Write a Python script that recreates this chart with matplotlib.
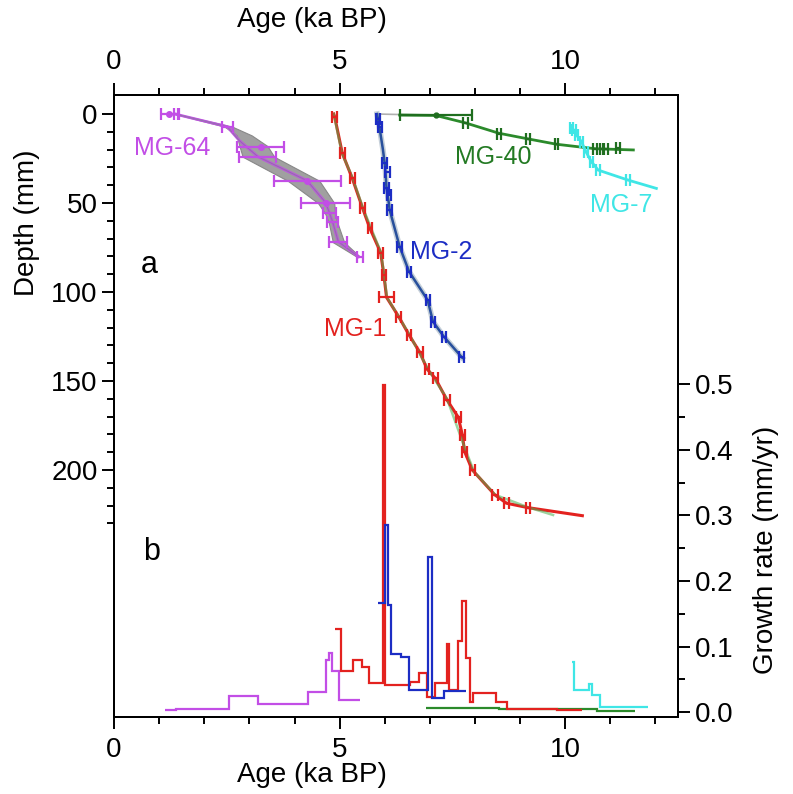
#!/usr/bin/env python3
"""Age-depth models (a) and growth rates (b) for the MG stalagmites."""

import matplotlib
matplotlib.use("Agg")
import matplotlib.pyplot as plt
import numpy as np

plt.rcParams["font.family"] = ["Liberation Sans", "DejaVu Sans"]

PURPLE = "#c24ee6"
RED = "#e3221f"
BLUE = "#1c2dc4"
BLUE_LINE = "#28509c"
GREEN = "#2b8a2b"
CYAN = "#3fe6e6"
ALT_GREEN = "#4caf50"

# ---- dated samples: age (ka BP), depth (mm), 2-sigma age error (ka) ----
mg64_age = [1.22, 1.39, 2.51, 3.25, 3.19, 4.28, 4.69, 4.78, 4.85, 4.96, 5.45]
mg64_depth = [0.0, 0.0, 7.1, 18.4, 24.0, 37.5, 49.8, 55.8, 60.5, 71.7, 80.2]
mg64_err = [0.19, 0.05, 0.12, 0.52, 0.41, 0.74, 0.54, 0.15, 0.12, 0.20, 0.07]
mg64_dots = [True, False, False, True, False, True, True, False, False, False, False]

mg1_age = [4.89, 5.06, 5.28, 5.51, 5.67, 5.91, 5.98, 6.04, 6.31, 6.54, 6.78,
           6.94, 7.12, 7.38, 7.63, 7.72, 7.77, 7.94, 8.44, 8.70, 9.18]
mg1_depth = [1.5, 22.1, 36.1, 53.0, 64.2, 77.9, 90.4, 103.0, 113.9, 124.2, 134.0,
             143.4, 148.5, 160.7, 170.4, 180.3, 189.7, 200.0, 214.0, 218.7, 221.2]
mg1_err = [0.05, 0.05, 0.06, 0.05, 0.05, 0.05, 0.05, 0.17, 0.05, 0.05, 0.06,
           0.05, 0.05, 0.06, 0.05, 0.05, 0.05, 0.06, 0.06, 0.05, 0.05]

mg2_age = [5.85, 5.89, 6.00, 6.06, 6.04, 6.09, 6.11, 6.33, 6.54, 6.96, 7.07, 7.31, 7.70]
mg2_depth = [3.0, 7.1, 27.7, 32.4, 41.7, 45.5, 53.9, 74.5, 88.6, 104.5, 116.7, 125.1, 136.3]
mg2_err = [0.04, 0.04, 0.05, 0.05, 0.05, 0.05, 0.05, 0.05, 0.05, 0.05, 0.05, 0.05, 0.05]

mg40_age = [7.13, 7.79, 8.53, 9.18, 9.81, 10.66, 10.80, 10.90, 11.17]
mg40_depth = [0.6, 5.2, 11.2, 14.2, 17.0, 19.7, 19.5, 19.5, 19.3]
mg40_err = [0.80, 0.06, 0.05, 0.04, 0.04, 0.04, 0.04, 0.04, 0.04]

mg7_age = [10.14, 10.19, 10.25, 10.36, 10.46, 10.58, 10.73, 11.39]
mg7_depth = [8.0, 9.0, 11.8, 15.6, 21.2, 26.8, 31.5, 37.1]
mg7_err = [0.04, 0.04, 0.04, 0.04, 0.04, 0.04, 0.04, 0.05]

# ---- age models ----
mg64_model_age = [1.35, 2.51, 2.78, 3.19, 4.28, 4.69, 4.78, 4.85, 4.97, 5.42]
mg64_model_depth = [0.0, 7.1, 15.0, 24.0, 37.5, 49.8, 56.0, 61.0, 71.7, 80.2]
mg64_band_depth = [0.0, 7.1, 12.0, 18.0, 24.0, 37.5, 50.0, 56.0, 61.0, 72.0, 80.2]
mg64_band_lo = [1.35, 2.45, 2.72, 2.78, 2.85, 3.85, 4.52, 4.68, 4.76, 4.85, 5.38]
mg64_band_hi = [1.40, 2.62, 3.05, 3.40, 3.55, 4.55, 4.88, 4.90, 4.95, 5.10, 5.45]

mg1_model_age = [4.87] + mg1_age + [10.38]
mg1_model_depth = [0.0] + mg1_depth + [225.7]
mg1_alt_age = [4.87, 5.05, 5.29, 5.52, 5.92, 6.05, 6.55, 6.95, 7.38, 7.75, 7.98, 8.45, 9.18, 9.73]
mg1_alt_depth = [0.0, 22.0, 36.0, 53.0, 78.0, 103.0, 124.0, 143.0, 160.0, 186.0, 201.0, 214.0, 221.0, 225.3]

mg2_model_age = [5.83, 5.88, 5.96, 6.01, 6.04, 6.09, 6.11, 6.33, 6.54, 6.95, 7.07, 7.31, 7.72]
mg2_model_depth = [0.0, 7.0, 20.0, 30.0, 42.0, 50.0, 54.0, 74.5, 88.6, 104.5, 116.7, 125.1, 137.0]

mg40_model_age = [6.33, 7.13, 7.79, 8.53, 9.18, 9.81, 10.66, 11.51]
mg40_model_depth = [0.6, 0.8, 5.0, 10.8, 14.0, 17.0, 19.5, 20.2]
mg40_alt_age = [5.83, 6.33, 7.13]
mg40_alt_depth = [0.0, 0.3, 0.6]

mg7_model_age = [10.14, 10.19, 10.25, 10.36, 10.46, 10.58, 10.73, 11.39, 12.02]
mg7_model_depth = [8.0, 9.0, 11.8, 15.6, 21.2, 26.8, 31.5, 37.1, 41.8]

# ---- growth rates (mm/yr), step edges in ka BP ----
mg64_gr_edges = [1.12, 1.38, 2.54, 3.19, 4.30, 4.69, 4.77, 4.82, 4.99, 5.45]
mg64_gr = [0.003, 0.005, 0.024, 0.012, 0.031, 0.079, 0.090, 0.063, 0.018]

mg1_gr_edges = [4.89, 5.02, 5.30, 5.50, 5.65, 5.965, 5.995, 6.55, 6.77, 6.94, 7.11,
                7.37, 7.42, 7.63, 7.72, 7.79, 7.90, 7.96, 8.46, 8.72, 9.81, 10.38]
mg1_gr = [0.126, 0.063, 0.080, 0.069, 0.044, 0.499, 0.041, 0.046, 0.059, 0.023,
          0.045, 0.104, 0.034, 0.109, 0.170, 0.082, 0.016, 0.029, 0.015, 0.004, 0.003]

mg2_gr_edges = [5.84, 6.00, 6.07, 6.13, 6.35, 6.54, 6.96, 7.05, 7.31, 7.79]
mg2_gr = [0.167, 0.285, 0.163, 0.089, 0.084, 0.034, 0.237, 0.021, 0.032]

mg40_gr_edges = [6.91, 8.53, 10.71, 11.54]
mg40_gr = [0.0056, 0.004, 0.001]

mg7_gr_edges = [10.14, 10.19, 10.52, 10.60, 10.78, 11.84]
mg7_gr = [0.076, 0.034, 0.043, 0.026, 0.007]


def dates(ax, age, depth, err, color):
    ax.errorbar(age, depth, xerr=err, fmt="none", ecolor=color,
                elinewidth=1.6, capsize=4, capthick=1.6, zorder=4)


fig = plt.figure(figsize=(7.93, 7.94), dpi=100)
ax = fig.add_axes([0.1438, 0.097, 0.7112, 0.7834])
ax2 = ax.twinx()

# panel a: age-depth
ax.fill_betweenx(mg64_band_depth, mg64_band_lo, mg64_band_hi, color="#a0a0a0",
                 edgecolor="#888888", lw=0.8, zorder=2)
ax.plot(mg64_model_age, mg64_model_depth, color=PURPLE, lw=2, zorder=3)
ax.plot(mg64_model_age, mg64_model_depth, color=ALT_GREEN, lw=0.8, alpha=0.4, zorder=3)
dates(ax, mg64_age, mg64_depth, mg64_err, PURPLE)
ax.plot(np.array(mg64_age)[mg64_dots], np.array(mg64_depth)[mg64_dots], "o",
        color=PURPLE, ms=4, zorder=5)

ax.plot(mg1_model_age, mg1_model_depth, color=RED, lw=2.2, zorder=3)
ax.plot(mg1_alt_age, mg1_alt_depth, color=ALT_GREEN, lw=1.8, alpha=0.55, zorder=3)
dates(ax, mg1_age, mg1_depth, mg1_err, RED)

ax.plot(mg2_model_age, mg2_model_depth, color="#9fb0c0", lw=4, alpha=0.6, zorder=2)
ax.plot(mg2_model_age, mg2_model_depth, color=BLUE_LINE, lw=1.8, zorder=3)
dates(ax, mg2_age, mg2_depth, mg2_err, BLUE)

ax.plot(mg40_alt_age, mg40_alt_depth, color="#b0b0b0", lw=1.2, zorder=2)
ax.plot(mg40_model_age, mg40_model_depth, color=GREEN, lw=2, zorder=3)
dates(ax, mg40_age, mg40_depth, mg40_err, "#1f6e1f")
ax.plot(mg40_age[:1], mg40_depth[:1], "o", color="#1f6e1f", ms=3.5, zorder=5)

ax.plot(mg7_model_age, mg7_model_depth, color=CYAN, lw=2, zorder=3)
dates(ax, mg7_age, mg7_depth, mg7_err, CYAN)

# panel b: growth rate steps
for edges, vals, col in [(mg64_gr_edges, mg64_gr, PURPLE),
                         (mg40_gr_edges, mg40_gr, GREEN),
                         (mg1_gr_edges, mg1_gr, RED),
                         (mg2_gr_edges, mg2_gr, BLUE),
                         (mg7_gr_edges, mg7_gr, CYAN)]:
    ax2.stairs(vals, edges, baseline=None, color=col, lw=1.6)

# labels
lab = dict(fontsize=18, ha="center", va="center")
ax.text(1.30, 19.3, "MG-64", color=PURPLE, **lab)
ax.text(8.40, 24.3, "MG-40", color="#237a23", **lab)
ax.text(11.23, 51.1, "MG-7", color=CYAN, **lab)
ax.text(7.24, 77.4, "MG-2", color=BLUE, **lab)
ax.text(5.35, 121.0, "MG-1", color=RED, **lab)
ax.text(0.79, 84.8, "a", fontsize=22, ha="center", va="center")
ax.text(0.84, 246.0, "b", fontsize=22, ha="center", va="center")

# axes
ax.set_xlim(0, 12.5)
ax.set_ylim(338.8, -10.7)
ax2.set_ylim(-0.0076, 0.942)

ax.set_xticks([0, 5, 10])
ax.set_xticks(np.arange(0, 13, 1), minor=True)
ax.set_yticks([0, 50, 100, 150, 200])
ax.set_yticks(np.arange(0, 231, 10), minor=True)
ax2.set_yticks(np.round(np.arange(0, 0.51, 0.1), 1))
ax2.set_yticks(np.arange(0.05, 0.5, 0.1), minor=True)
ax2.yaxis.set_major_formatter(matplotlib.ticker.FormatStrFormatter("%.1f"))

for a in (ax, ax2):
    a.tick_params(which="major", length=8.4, width=1.4, labelsize=20, direction="out")
    a.tick_params(which="minor", length=4.8, width=1.4, direction="out")
    for s in a.spines.values():
        s.set_linewidth(1.4)
ax.tick_params(axis="x", which="both", top=True, bottom=True, labeltop=True, labelbottom=True)
ax.tick_params(axis="x", which="major", pad=6)

ax.text(0.351, 1.121, "Age (ka BP)", fontsize=20, ha="center", va="center",
        transform=ax.transAxes)
ax.text(0.351, -0.093, "Age (ka BP)", fontsize=20, ha="center", va="center",
        transform=ax.transAxes)
ax.set_ylabel("Depth (mm)", fontsize=20)
ax.yaxis.set_label_coords(-0.131, 0.794)
ax2.set_ylabel("Growth rate (mm/yr)", fontsize=20)
ax2.yaxis.set_label_coords(1.133, 0.268)

fig.savefig("out.png", dpi=100)
